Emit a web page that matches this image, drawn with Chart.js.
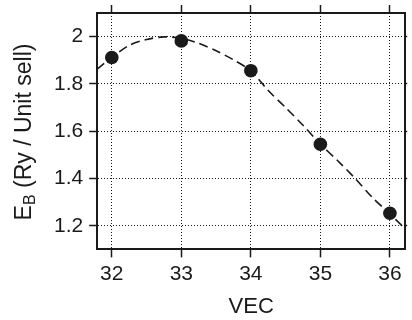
<!DOCTYPE html>
<html>
<head>
<meta charset="utf-8">
<script src="https://cdn.jsdelivr.net/npm/chart.js@4/dist/chart.umd.min.js"></script>
<style>
  html, body { margin: 0; padding: 0; background: #fff; }
  #wrap { width: 412px; height: 320px; }
</style>
</head>
<body>
<div id="wrap"><canvas id="chart" width="412" height="320"></canvas></div>
<script>
// measured points
const vec = [32, 33, 34, 35, 36];
const energy = [1.912, 1.982, 1.856, 1.545, 1.253];

// dashed fit curve
const fitX = [31.79, 32.0, 32.25, 32.5, 32.75, 33.0, 33.25, 33.5, 33.75, 34.0, 34.25, 34.5, 34.75, 35.0, 35.25, 35.5, 35.75, 36.0, 36.22];
const fitY = [1.863, 1.912, 1.963, 1.988, 1.999, 1.993, 1.972, 1.940, 1.902, 1.855, 1.772, 1.700, 1.625, 1.545, 1.475, 1.400, 1.319, 1.250, 1.187];

// axis ticks
const xTicks = [32, 33, 34, 35, 36];
const yTicks = [1.2, 1.4, 1.6, 1.8, 2.0];

const FONT = "'Liberation Sans', Arial, Helvetica, sans-serif";
const INK = '#1a1a1a';

function fixTicks(values) {
  return function (scale) {
    scale.ticks = values.map(v => ({ value: v }));
  };
}

// no extra room for half labels, layout padding does that
function noPad(scale) {
  scale.paddingTop = 0;
  scale.paddingBottom = 0;
  scale.paddingLeft = 0;
  scale.paddingRight = 0;
}

// y title with a subscript B, drawn on the canvas
const yTitle = {
  id: 'yTitle',
  afterDraw(chart) {
    const ctx = chart.ctx;
    const parts = [
      { t: 'E', size: 23, dy: 0 },
      { t: 'B', size: 16, dy: 6 },
      { t: ' (Ry / Unit sell)', size: 23, dy: 0 }
    ];
    ctx.save();
    ctx.fillStyle = INK;
    ctx.textBaseline = 'middle';
    ctx.textAlign = 'left';
    let total = 0;
    parts.forEach(p => {
      ctx.font = p.size + 'px ' + FONT;
      p.w = ctx.measureText(p.t).width;
      total += p.w;
    });
    ctx.translate(25, 132);
    ctx.rotate(-Math.PI / 2);
    let x = -total / 2;
    parts.forEach(p => {
      ctx.font = p.size + 'px ' + FONT;
      ctx.fillText(p.t, x, p.dy);
      x += p.w;
    });
    ctx.restore();
  }
};

const tickFont = { family: FONT, size: 21 };

new Chart(document.getElementById('chart').getContext('2d'), {
  type: 'scatter',
  data: {
    datasets: [{
      type: 'scatter',
      data: vec.map((v, i) => ({ x: v, y: energy[i] })),
      backgroundColor: INK,
      borderWidth: 0,
      pointRadius: 6.8,
      pointHoverRadius: 6.8,
      order: 0
    }, {
      type: 'line',
      data: fitX.map((v, i) => ({ x: v, y: fitY[i] })),
      borderColor: INK,
      borderWidth: 1.6,
      borderDash: [9, 5],
      pointRadius: 0,
      tension: 0.3,
      fill: false,
      order: 1
    }]
  },
  options: {
    responsive: false,
    animation: false,
    devicePixelRatio: 1,
    layout: { padding: { top: 5, right: 0, bottom: 0, left: 48 } },
    plugins: {
      legend: { display: false },
      tooltip: { enabled: false }
    },
    scales: {
      x: {
        type: 'linear',
        position: 'bottom',
        min: 31.79,
        max: 36.22,
        afterBuildTicks: fixTicks(xTicks),
        afterFit: noPad,
        ticks: { color: INK, font: tickFont, padding: 4, maxRotation: 0 },
        grid: {
          color: INK, lineWidth: 1,
          tickColor: INK, tickWidth: 1.5, tickLength: 8
        },
        border: { display: true, color: INK, width: 2, dash: [1, 2] },
        title: {
          display: true, text: 'VEC', color: INK,
          font: { family: FONT, size: 22 },
          padding: { top: 3, bottom: 0 }
        }
      },
      y: {
        type: 'linear',
        position: 'left',
        min: 1.1,
        max: 2.1,
        afterBuildTicks: fixTicks(yTicks),
        afterFit: noPad,
        ticks: {
          color: INK, font: tickFont, padding: 6,
          callback: v => String(v)
        },
        grid: {
          color: INK, lineWidth: 1,
          tickColor: INK, tickWidth: 1.5, tickLength: 8
        },
        border: { display: true, color: INK, width: 2, dash: [1, 2] }
      },
      x2: {
        type: 'linear',
        position: 'top',
        min: 31.79,
        max: 36.22,
        afterBuildTicks: fixTicks(xTicks),
        afterFit: noPad,
        ticks: { display: false },
        grid: { drawOnChartArea: false, tickColor: INK, tickWidth: 1.5, tickLength: 8 },
        border: { display: true, color: INK, width: 2 }
      },
      y2: {
        type: 'linear',
        position: 'right',
        min: 1.1,
        max: 2.1,
        afterBuildTicks: fixTicks(yTicks),
        afterFit: noPad,
        ticks: { display: false },
        grid: { drawOnChartArea: false, tickColor: INK, tickWidth: 1.5, tickLength: 2 },
        border: { display: true, color: INK, width: 2 }
      }
    }
  },
  plugins: [yTitle]
});
</script>
</body>
</html>
